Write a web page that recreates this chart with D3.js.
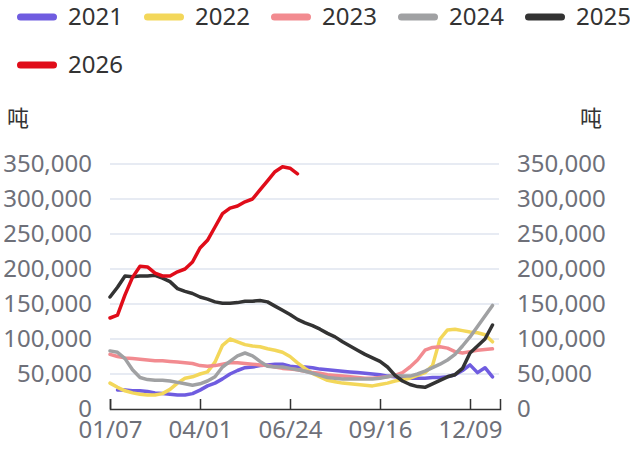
<!DOCTYPE html>
<html>
<head>
<meta charset="utf-8">
<script src="https://cdn.jsdelivr.net/npm/d3@7"></script>
<style>
  body { margin: 0; background: #fff; }
  svg { font-family: "Noto Sans", "Noto Sans CJK SC", sans-serif; }
</style>
</head>
<body>
<div class="chart"></div>
<script>
// week labels (one category per week)
var weeks = ["01/07","01/14","01/21","01/28","02/04","02/11","02/18","02/25","03/04","03/11","03/18","03/25",
  "04/01","04/08","04/15","04/22","04/29","05/06","05/13","05/20","05/27","06/03","06/10","06/17",
  "06/24","07/01","07/08","07/15","07/22","07/29","08/05","08/12","08/19","08/26","09/02","09/09",
  "09/16","09/23","09/30","10/07","10/14","10/21","10/28","11/04","11/11","11/18","11/25","12/02",
  "12/09","12/16","12/23","12/30","01/06"];

var years = ["2021", "2022", "2023", "2024", "2025", "2026"];
var colors = ["#6f5ce0", "#f3d75a", "#f28b90", "#a0a1a3", "#333333", "#e00c19"];

// tons, thousands
var v2021 = [null,27,27,26,26,25,23,22,21,20,20,22,27,33,37,43,50,55,59,60,62,63,64,64,61,60,
  60,59,57,56,55,54,53,52,51,50,49,47,46,45,44,44,44,45,45,46,49,55,63,52,59,46];
var v2022 = [37,31,26,23,21,20,20,22,28,37,44,46,50,53,67,91,100,96,92,90,89,86,84,81,75,66,
  58,51,46,41,39,37,36,35,34,33,35,37,40,42,44,48,52,62,100,113,114,112,110,109,106,96];
var v2023 = [78,75,73,72,71,70,69,69,68,67,66,65,62,61,62,64,66,66,65,64,63,62,60,58,57,56,
  54,52,51,49,48,47,46,45,44,44,45,46,48,52,60,70,84,88,89,87,82,80,82,84,85,86];
var v2024 = [83,81,72,56,45,42,41,41,40,38,36,34,36,40,46,60,68,76,80,76,68,61,60,60,58,56,
  54,51,48,45,44,43,43,43,43,43,44,46,48,47,47,50,54,59,64,70,78,90,103,118,133,148];
var v2025 = [160,174,190,189,190,190,191,187,182,172,168,165,160,157,153,151,151,152,154,154,155,153,147,141,135,128,
  123,119,114,108,103,96,90,84,78,73,68,60,48,40,35,32,31,36,41,46,49,58,80,90,100,120];
var v2026 = [130,134,163,188,204,203,194,190,190,196,200,210,230,241,260,279,287,290,296,300,313,326,339,346,344,336];

var yTicks = [0, 50000, 100000, 150000, 200000, 250000, 300000, 350000];

var series = [v2021, v2022, v2023, v2024, v2025, v2026];

var width = 630, height = 450;
var svg = d3.select(".chart").append("svg")
  .attr("width", width)
  .attr("height", height);

var x = d3.scalePoint()
  .domain(weeks)
  .range([110, 500]);

var y = d3.scaleLinear()
  .domain([0, 350000])
  .range([409, 164]);

// grid
svg.append("g")
  .selectAll("line")
  .data(yTicks.slice(1))
  .enter().append("line")
  .attr("x1", 110).attr("x2", 499)
  .attr("y1", d => y(d)).attr("y2", d => y(d))
  .attr("stroke", "#dfe4ef")
  .attr("stroke-width", 1.5);

var fmt = d3.format(",");

// left axis labels
svg.append("g")
  .selectAll("text")
  .data(yTicks)
  .enter().append("text")
  .attr("x", 92)
  .attr("y", d => y(d))
  .attr("dy", "0.35em")
  .attr("text-anchor", "end")
  .attr("font-size", 24)
  .attr("fill", "#6e7079")
  .text(d => fmt(d));

// right axis labels
svg.append("g")
  .selectAll("text")
  .data(yTicks)
  .enter().append("text")
  .attr("x", 517)
  .attr("y", d => y(d))
  .attr("dy", "0.35em")
  .attr("text-anchor", "start")
  .attr("font-size", 24)
  .attr("fill", "#6e7079")
  .text(d => fmt(d));

// unit labels
svg.append("text").attr("x", 7).attr("y", 118).attr("dy", "0.35em")
  .attr("font-family", "\"Noto Sans CJK SC\", sans-serif")
  .attr("font-size", 22).attr("fill", "#333").text("吨");
svg.append("text").attr("x", 602).attr("y", 118).attr("dy", "0.35em")
  .attr("font-family", "\"Noto Sans CJK SC\", sans-serif")
  .attr("text-anchor", "end")
  .attr("font-size", 22).attr("fill", "#333").text("吨");

// x axis
var xAxis = svg.append("g")
  .attr("transform", "translate(0,409)")
  .call(d3.axisBottom(x)
    .tickValues(weeks.filter((d, i) => i % 12 === 0 && i < 52))
    .tickSizeInner(-10)
    .tickSizeOuter(-10)
    .tickPadding(12));

xAxis.select(".domain").attr("stroke", "#333").attr("stroke-width", 1.5);
xAxis.selectAll(".tick line").attr("stroke", "#333").attr("stroke-width", 1.5);
xAxis.selectAll(".tick text")
  .attr("font-size", 24)
  .attr("font-family", "\"Noto Sans\", sans-serif")
  .attr("fill", "#6e7079")
  .attr("dy", "0.71em");

// lines
var line = d3.line()
  .defined(d => d != null)
  .x((d, i) => x(weeks[i]))
  .y(d => y(d * 1000));

svg.append("g")
  .selectAll("path")
  .data(series)
  .enter().append("path")
  .attr("d", d => line(d))
  .attr("fill", "none")
  .attr("stroke", (d, i) => colors[i])
  .attr("stroke-width", 3.5)
  .attr("stroke-linejoin", "round")
  .attr("stroke-linecap", "round");

// legend
var legend = svg.append("g")
  .selectAll("g")
  .data(years)
  .enter().append("g")
  .attr("transform", (d, i) => "translate(" + (17 + (i % 5) * 127) + "," + (17 + Math.floor(i / 5) * 48) + ")");

legend.append("rect")
  .attr("x", 0).attr("y", -3.5)
  .attr("width", 40).attr("height", 7)
  .attr("rx", 3.5)
  .attr("fill", (d, i) => colors[i]);

legend.append("text")
  .attr("x", 51)
  .attr("dy", "0.35em")
  .attr("font-size", 24)
  .attr("fill", "#333")
  .text(d => d);
</script>
</body>
</html>
